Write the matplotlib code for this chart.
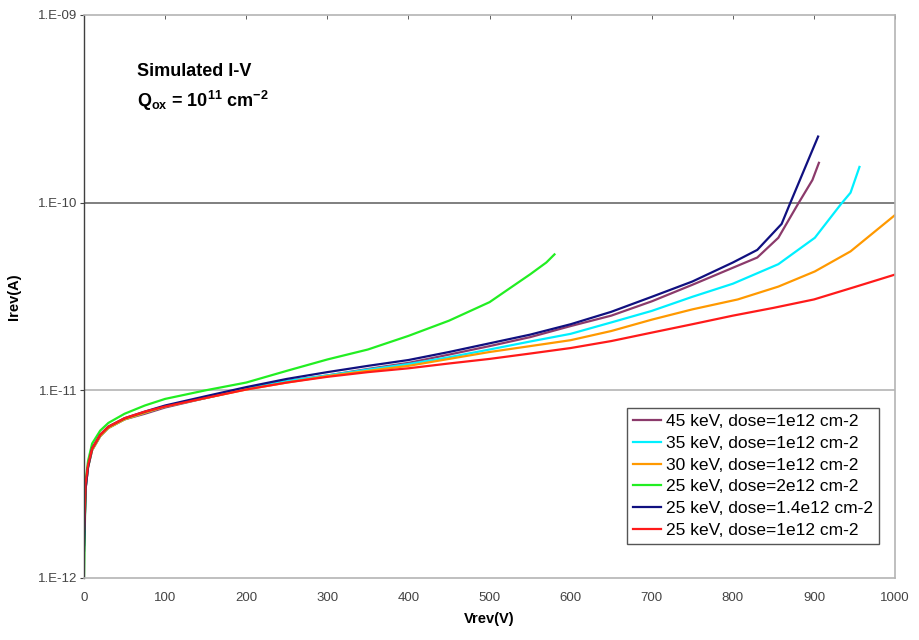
import matplotlib
matplotlib.use('Agg')
from matplotlib import pyplot as plot
from matplotlib.ticker import FixedLocator, FixedFormatter, NullLocator

# ***************************** Data *****************************
v_low = [0, 2, 5, 10, 20, 30, 50, 75, 100, 150, 200, 250, 300, 350]

v_45kev = v_low + [400, 450, 500, 550, 600, 650, 700, 750, 800, 830, 856, 880, 898, 906]
i_45kev = [1.5e-12, 3.0e-12, 3.9e-12, 4.8e-12, 5.7e-12, 6.3e-12, 7.0e-12, 7.5e-12, 8.1e-12,
           9.1e-12, 1.02e-11, 1.12e-11, 1.2e-11, 1.3e-11,
           1.4e-11, 1.55e-11, 1.72e-11, 1.92e-11, 2.2e-11, 2.5e-11, 2.98e-11, 3.65e-11,
           4.5e-11, 5.1e-11, 6.5e-11, 9.8e-11, 1.32e-10, 1.63e-10]

v_35kev = v_low + [400, 450, 500, 550, 600, 650, 700, 750, 800, 856, 901, 933, 945, 956]
i_35kev = [1.5e-12, 3.0e-12, 3.9e-12, 4.8e-12, 5.7e-12, 6.3e-12, 7.0e-12, 7.6e-12, 8.2e-12,
           9.1e-12, 1.02e-11, 1.12e-11, 1.2e-11, 1.29e-11,
           1.38e-11, 1.5e-11, 1.65e-11, 1.82e-11, 2.0e-11, 2.3e-11, 2.65e-11, 3.15e-11,
           3.7e-11, 4.7e-11, 6.5e-11, 9.8e-11, 1.13e-10, 1.55e-10]

v_30kev = v_low + [400, 450, 500, 550, 600, 650, 700, 750, 806, 856, 901, 945, 1000]
i_30kev = [1.5e-12, 3.0e-12, 3.9e-12, 4.8e-12, 5.7e-12, 6.3e-12, 7.0e-12, 7.6e-12, 8.2e-12,
           9.1e-12, 1.01e-11, 1.1e-11, 1.19e-11, 1.27e-11,
           1.35e-11, 1.47e-11, 1.6e-11, 1.72e-11, 1.85e-11, 2.07e-11, 2.38e-11, 2.7e-11,
           3.05e-11, 3.57e-11, 4.3e-11, 5.5e-11, 8.6e-11]

v_25kev_2e12 = v_low + [400, 450, 500, 525, 550, 570, 580]
i_25kev_2e12 = [1.0e-12, 3.3e-12, 4.2e-12, 5.2e-12, 6.1e-12, 6.7e-12, 7.5e-12, 8.3e-12, 9.0e-12,
                1.0e-11, 1.1e-11, 1.27e-11, 1.46e-11, 1.65e-11,
                1.95e-11, 2.35e-11, 2.95e-11, 3.5e-11, 4.15e-11, 4.8e-11, 5.3e-11]

v_25kev_14e12 = v_low + [400, 450, 500, 550, 600, 650, 700, 750, 800, 830, 860, 870, 905]
i_25kev_14e12 = [1.4e-12, 3.0e-12, 3.9e-12, 4.9e-12, 5.8e-12, 6.4e-12, 7.1e-12, 7.7e-12, 8.3e-12,
                 9.3e-12, 1.04e-11, 1.15e-11, 1.25e-11, 1.35e-11,
                 1.45e-11, 1.6e-11, 1.78e-11, 1.98e-11, 2.25e-11, 2.62e-11, 3.15e-11, 3.8e-11,
                 4.8e-11, 5.6e-11, 7.7e-11, 9.8e-11, 2.25e-10]

v_25kev_1e12 = v_low + [400, 450, 500, 550, 600, 650, 700, 750, 800, 850, 900, 950, 1000]
i_25kev_1e12 = [1.8e-12, 3.2e-12, 4.0e-12, 4.9e-12, 5.8e-12, 6.4e-12, 7.1e-12, 7.7e-12, 8.2e-12,
                9.1e-12, 1.01e-11, 1.1e-11, 1.18e-11, 1.25e-11,
                1.31e-11, 1.39e-11, 1.47e-11, 1.57e-11, 1.68e-11, 1.83e-11, 2.03e-11, 2.25e-11,
                2.5e-11, 2.75e-11, 3.05e-11, 3.55e-11, 4.14e-11]

y_ticks = [1e-12, 1e-11, 1e-10, 1e-9]
y_tick_labels = ['1.E-12', '1.E-11', '1.E-10', '1.E-09']
x_ticks = [0, 100, 200, 300, 400, 500, 600, 700, 800, 900, 1000]
# ************************************************************************************

plot.rcParams['font.family'] = ['Liberation Sans', 'DejaVu Sans']
plot.rcParams['mathtext.fontset'] = 'custom'
plot.rcParams['mathtext.rm'] = 'Liberation Sans:bold'
plot.rcParams['mathtext.bf'] = 'Liberation Sans:bold'
plot.rcParams['mathtext.it'] = 'Liberation Sans:bold'

fig = plot.figure(figsize=(9.2, 6.4), dpi=100)
ax0 = fig.add_axes([0.0913, 0.0969, 0.8817, 0.8797])

ax0.plot(v_45kev, i_45kev, '-', color='#8b3a6b', lw=1.6, label='45 keV, dose=1e12 cm-2')
ax0.plot(v_35kev, i_35kev, '-', color='#00f0ff', lw=1.6, label='35 keV, dose=1e12 cm-2')
ax0.plot(v_30kev, i_30kev, '-', color='#ff9900', lw=1.6, label='30 keV, dose=1e12 cm-2')
ax0.plot(v_25kev_2e12, i_25kev_2e12, '-', color='#22ee22', lw=1.6, label='25 keV, dose=2e12 cm-2')
ax0.plot(v_25kev_14e12, i_25kev_14e12, '-', color='#101080', lw=1.6, label='25 keV, dose=1.4e12 cm-2')
ax0.plot(v_25kev_1e12, i_25kev_1e12, '-', color='#ff1a1a', lw=1.6, label='25 keV, dose=1e12 cm-2')

ax0.set_yscale('log')
ax0.axis([0, 1000, 1e-12, 1e-9])     # [xmin, xmax, ymin, ymax]
ax0.yaxis.set_major_locator(FixedLocator(y_ticks))
ax0.yaxis.set_major_formatter(FixedFormatter(y_tick_labels))
ax0.yaxis.set_minor_locator(NullLocator())
ax0.xaxis.set_major_locator(FixedLocator(x_ticks))

# horizontal gridlines, darker on 1E-10 like the original
ax0.axhline(1e-10, color='#6a6a6a', lw=1.2, zorder=0)
ax0.axhline(1e-11, color='#b4b4b4', lw=1.2, zorder=0)

for side in ['top', 'right', 'bottom']:
    ax0.spines[side].set_color('#b4b4b4')
    ax0.spines[side].set_linewidth(1.2)
ax0.spines['left'].set_color('#404040')
ax0.spines['left'].set_linewidth(1.0)

ax0.tick_params(axis='y', colors='#444444', labelsize=9.5, length=3, width=0.8, pad=2)
ax0.tick_params(axis='x', colors='#444444', labelsize=9.5, pad=10, direction='in',
                bottom=False, top=True, length=3, width=0.6)
for t in ax0.xaxis.get_ticklines():
    t.set_color('#999999')

plot.xlabel('Vrev(V)', fontsize=10.5, fontweight='bold', labelpad=6)
plot.ylabel('Irev(A)', fontsize=10.5, fontweight='bold', labelpad=12)

ax0.text(0.065, 0.899, 'Simulated I-V', transform=ax0.transAxes, fontsize=13,
         fontweight='bold', va='center')
ax0.text(0.065, 0.847, r'Q$_{\mathrm{ox}}$ = 10$^{\mathrm{11}}$ cm$^{\mathrm{-2}}$',
         transform=ax0.transAxes, fontsize=13, fontweight='bold', va='center')

leg = ax0.legend(loc='lower right', bbox_to_anchor=(0.991, 0.045), fontsize=12.5,
                 fancybox=False, framealpha=1, edgecolor='#555555', handlelength=1.6,
                 handletextpad=0.3, borderpad=0.35, labelspacing=0.38)
leg.get_frame().set_linewidth(1.0)

fig.savefig('out.png', dpi=100)
